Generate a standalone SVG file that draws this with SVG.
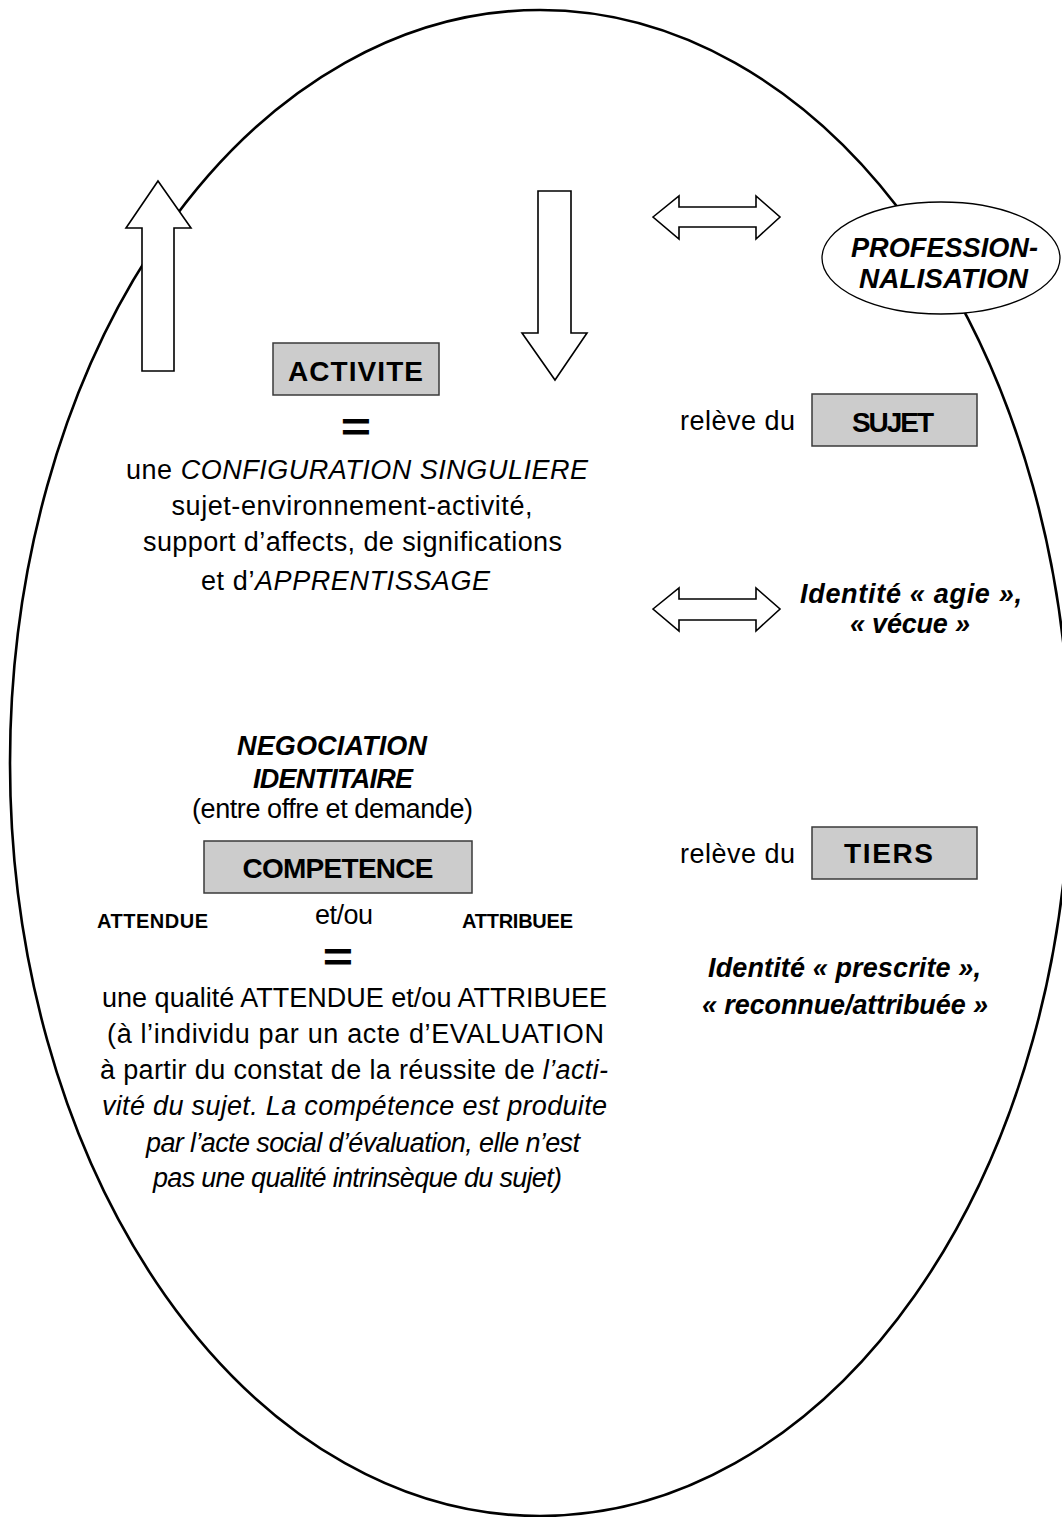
<svg xmlns="http://www.w3.org/2000/svg" width="1062" height="1517" viewBox="0 0 1062 1517">
<style>
text{font-family:"Liberation Sans",Arial,sans-serif;fill:#000;text-anchor:middle}
.r{font-size:27px}
.b{font-size:28px;font-weight:bold}
.bi{font-size:27px;font-weight:bold;font-style:italic}
.sb{font-size:20px;font-weight:bold}
.i{font-style:italic}
.box{fill:#cccccc;stroke:#3a3a3a;stroke-width:1.5}
.arr{fill:#fff;stroke:#000;stroke-width:1.6;stroke-linejoin:miter}
.eq{font-size:40px;font-weight:bold}
</style>
<rect width="1062" height="1517" fill="#fff"/>
<g id="frame">
<ellipse cx="540" cy="763" rx="530" ry="753" fill="none" stroke="#000" stroke-width="2.6"/>
</g>
<g id="connectors">
<polygon class="arr" points="158,181 191,228 174,228 174,371 142,371 142,228 126,228"/>
<polygon class="arr" points="538,191 571,191 571,333 587,333 555,380 522,333 538,333"/>
<polygon class="arr" points="653,217 679,196 679,207 756,207 756,196 780,217 756,239 756,227 679,227 679,239"/>
<polygon class="arr" points="653,609 679,588 679,599 756,599 756,588 780,609 756,631 756,620 679,620 679,631"/>
</g>
<g id="professionnalisation">
<ellipse cx="941" cy="258" rx="119" ry="56" fill="#fff" stroke="#000" stroke-width="1.3"/>
<text class="bi" x="944.5" y="257" font-size="31" textLength="187" lengthAdjust="spacingAndGlyphs">PROFESSION-</text>
<text class="bi" x="943.5" y="288" font-size="31" textLength="169" lengthAdjust="spacingAndGlyphs">NALISATION</text>
</g>
<g id="activite">
<rect class="box" x="273" y="343" width="166" height="52"/>
<text class="b" x="355.5" y="381" font-size="29" textLength="135">ACTIVITE</text>
</g>
<g id="eq1">
<text class="eq" transform="translate(356,441) scale(1.3,1)" x="0" y="0">=</text>
</g>
<g id="activite-def">
<text class="r" x="357" y="479" textLength="462">une <tspan class="i">CONFIGURATION SINGULIERE</tspan></text>
<text class="r" x="352" y="515" textLength="361">sujet-environnement-activité,</text>
<text class="r" x="352.5" y="551" textLength="419">support d’affects, de significations</text>
<text class="r" x="345.5" y="590" textLength="289">et d’<tspan class="i">APPRENTISSAGE</tspan></text>
</g>
<g id="sujet">
<text class="r" x="737.5" y="430" textLength="115">relève du</text>
<rect class="box" x="812" y="394" width="165" height="52"/>
<text class="b" x="893" y="432" font-size="25.5" textLength="82">SUJET</text>
</g>
<g id="identite-agie">
<text class="bi" x="911" y="603" textLength="222">Identité « agie »,</text>
<text class="bi" x="910" y="633" textLength="120">« vécue »</text>
</g>
<g id="negociation">
<text class="bi" x="332" y="755" font-size="28" textLength="190">NEGOCIATION</text>
<text class="bi" x="333" y="788" font-size="28" textLength="160">IDENTITAIRE</text>
<text class="r" x="332.5" y="818" textLength="281">(entre offre et demande)</text>
</g>
<g id="competence">
<rect class="box" x="204" y="841" width="268" height="52"/>
<text class="b" x="338" y="878" textLength="191">COMPETENCE</text>
<text class="sb" x="152.5" y="928" textLength="111">ATTENDUE</text>
<text class="r" x="344" y="924" textLength="58">et/ou</text>
<text class="sb" x="517.5" y="928" textLength="111">ATTRIBUEE</text>
</g>
<g id="eq2">
<text class="eq" transform="translate(338,971) scale(1.3,1)" x="0" y="0">=</text>
</g>
<g id="competence-def">
<text class="r" x="354.5" y="1007" textLength="505">une qualité ATTENDUE et/ou ATTRIBUEE</text>
<text class="r" x="355.5" y="1043" textLength="497">(à l’individu par un acte d’EVALUATION</text>
<text class="r" x="354" y="1079" textLength="508">à partir du constat de la réussite de <tspan class="i">l’acti-</tspan></text>
<text class="r i" x="354.5" y="1115" textLength="505">vité du sujet. La compétence est produite</text>
<text class="r i" x="363" y="1152" font-size="26" textLength="434">par l’acte social d’évaluation, elle n’est</text>
<text class="r i" x="357.5" y="1187" font-size="26" textLength="409">pas une qualité intrinsèque du sujet)</text>
</g>
<g id="tiers">
<text class="r" x="737.5" y="863" textLength="115">relève du</text>
<rect class="box" x="812" y="827" width="165" height="52"/>
<text class="b" x="888.5" y="863" textLength="89">TIERS</text>
</g>
<g id="identite-prescrite">
<text class="bi" x="844.5" y="977" textLength="273">Identité « prescrite »,</text>
<text class="bi" x="845" y="1014" textLength="286">« reconnue/attribuée »</text>
</g>
</svg>
